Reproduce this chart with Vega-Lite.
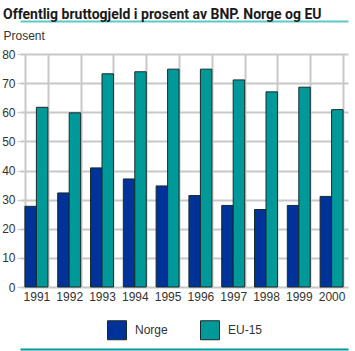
{
  "$schema": "https://vega.github.io/schema/vega-lite/v6.json",
  "width": 328,
  "height": 233,
  "autosize": {"type": "none"},
  "padding": {"left": 20, "top": 54, "right": 7, "bottom": 64},
  "background": "white",
  "title": {
    "text": "Offentlig bruttogjeld i prosent av BNP. Norge og EU",
    "anchor": "start",
    "frame": "group",
    "dx": -17,
    "dy": 4,
    "fontSize": 14,
    "fontWeight": "bold",
    "font": "Roboto",
    "color": "#1a1a1a",
    "offset": 3
  },
  "data": {
    "values": [
      {"year": "1991", "land": "Norge", "v": 27.7},
      {"year": "1991", "land": "EU-15", "v": 61.7},
      {"year": "1992", "land": "Norge", "v": 32.3},
      {"year": "1992", "land": "EU-15", "v": 59.8},
      {"year": "1993", "land": "Norge", "v": 40.9},
      {"year": "1993", "land": "EU-15", "v": 73.2},
      {"year": "1994", "land": "Norge", "v": 37.1},
      {"year": "1994", "land": "EU-15", "v": 73.9},
      {"year": "1995", "land": "Norge", "v": 34.7},
      {"year": "1995", "land": "EU-15", "v": 74.8},
      {"year": "1996", "land": "Norge", "v": 31.4},
      {"year": "1996", "land": "EU-15", "v": 74.8},
      {"year": "1997", "land": "Norge", "v": 28.0},
      {"year": "1997", "land": "EU-15", "v": 71.1},
      {"year": "1998", "land": "Norge", "v": 26.6},
      {"year": "1998", "land": "EU-15", "v": 67.0},
      {"year": "1999", "land": "Norge", "v": 28.0},
      {"year": "1999", "land": "EU-15", "v": 68.6},
      {"year": "2000", "land": "Norge", "v": 31.1},
      {"year": "2000", "land": "EU-15", "v": 60.9}
    ]
  },
  "resolve": {"axis": {"x": "independent", "y": "independent"}},
  "layer": [
    {
      "mark": {"type": "bar", "stroke": "#1a2a2a", "strokeWidth": 1},
      "encoding": {
        "x": {
          "field": "year",
          "type": "nominal",
          "scale": {"paddingInner": 0.3, "paddingOuter": 0.15},
          "axis": {
            "title": null,
            "labelAngle": 0,
            "tickBand": "extent",
            "grid": true,
            "ticks": false,
            "domain": false,
            "labelPadding": 4
          }
        },
        "xOffset": {"field": "land", "type": "nominal", "sort": ["Norge", "EU-15"], "scale": {"paddingInner": 0, "paddingOuter": 0}},
        "y": {
          "field": "v",
          "type": "quantitative",
          "scale": {"domain": [0, 80], "nice": false},
          "axis": {
            "title": "Prosent",
            "titleAngle": 0,
            "titleAlign": "left",
            "titleBaseline": "middle",
            "titleX": -17,
            "titleY": -19,
            "titleFontWeight": "normal",
            "titleFontSize": 12,
            "titleColor": "#333333",
            "values": [0, 10, 20, 30, 40, 50, 60, 70, 80],
            "labelOverlap": false,
            "ticks": true,
            "tickSize": 3,
            "tickColor": "#c8c8c8",
            "domain": false,
            "labelPadding": 2
          }
        },
        "color": {
          "field": "land",
          "type": "nominal",
          "sort": ["Norge", "EU-15"],
          "scale": {"domain": ["Norge", "EU-15"], "range": ["#003399", "#009999"]},
          "legend": {
            "title": null,
            "orient": "none",
            "legendX": 87,
            "legendY": 266,
            "direction": "horizontal",
            "symbolType": "square",
            "symbolSize": 361,
            "symbolStrokeColor": "#1a2a2a",
            "symbolStrokeWidth": 1,
            "symbolOpacity": 1,
            "labelFontSize": 12,
            "labelColor": "#333333",
            "columnPadding": 30,
            "labelOffset": 8,
            "padding": 0
          }
        }
      }
    },
    {
      "mark": {"type": "tick", "opacity": 0},
      "encoding": {
        "x": {
          "field": "year",
          "type": "nominal",
          "axis": {
            "orient": "bottom",
            "offset": 62,
            "title": null,
            "labels": false,
            "ticks": false,
            "grid": false,
            "domain": true,
            "domainColor": "#009999",
            "domainWidth": 2
          }
        },
        "y": {"field": "v", "type": "quantitative", "axis": null}
      }
    },
    {
      "mark": {"type": "tick", "opacity": 0},
      "encoding": {
        "x": {
          "field": "year",
          "type": "nominal",
          "axis": {
            "orient": "bottom",
            "offset": -266,
            "title": null,
            "labels": false,
            "ticks": false,
            "grid": false,
            "domain": true,
            "domainColor": "#5cc8c8",
            "domainWidth": 2
          }
        },
        "y": {"field": "v", "type": "quantitative", "axis": null}
      }
    }
  ],
  "config": {
    "font": "Liberation Sans",
    "view": {"stroke": null},
    "axis": {
      "gridColor": "#c8c8c8",
      "gridWidth": 2,
      "labelFontSize": 12,
      "labelColor": "#333333",
      "labelFont": "Liberation Sans"
    },
    "legend": {"labelFont": "Liberation Sans"}
  }
}
